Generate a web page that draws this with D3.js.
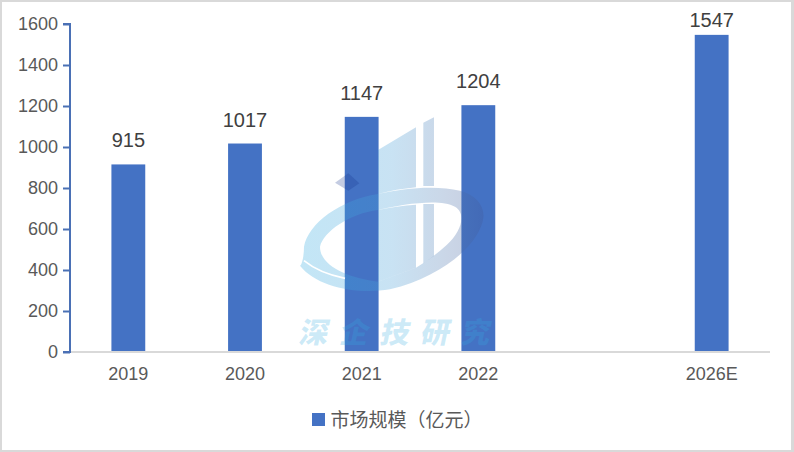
<!DOCTYPE html>
<html lang="en">
<head>
<meta charset="utf-8">
<title>市场规模</title>
<style>
  html, body { margin: 0; padding: 0; background: #fff; }
  svg { display: block; }
</style>
<script src="https://cdn.jsdelivr.net/npm/d3@7/dist/d3.min.js"></script>
</head>
<body>
<script>
/* chart data */
var categories = ["2019", "2020", "2021", "2022", "", "2026E"];
var values = [915, 1017, 1147, 1204, null, 1547];
var yTicks = [0, 200, 400, 600, 800, 1000, 1200, 1400, 1600];
var legendLabel = "市场规模（亿元）";
var watermarkChars = ["深", "企", "技", "研", "究"];

var W = 794, H = 452;
var margin = {top: 24, right: 24, bottom: 100, left: 70};
var width = W - margin.left - margin.right;
var height = H - margin.top - margin.bottom;
var latin = "'Liberation Sans', Arial, sans-serif";
var cjk = "'Noto Sans CJK SC', sans-serif";

var svg = d3.select("body").append("svg").attr("width", W).attr("height", H);

/* grey frame round the image */
svg.append("rect").attr("width", W).attr("height", H).attr("fill", "#d9d9d9");
svg.append("rect").attr("x", 2).attr("y", 2).attr("width", 789).attr("height", 448).attr("fill", "#fff");

var g = svg.append("g").attr("transform", "translate(" + margin.left + "," + margin.top + ")");

var x = d3.scaleBand().domain(d3.range(categories.length)).range([0, width]).paddingInner(0.71).paddingOuter(0.355);
var y = d3.scaleLinear().domain([0, 1600]).range([height, 0]);

var points = values.map(function(v, i) { return {v: v, i: i}; }).filter(function(d) { return d.v !== null; });

/* bars */
g.selectAll(".bar")
  .data(points)
  .enter().append("rect")
  .attr("class", "bar")
  .attr("x", function(d) { return x(d.i); })
  .attr("width", x.bandwidth())
  .attr("y", function(d) { return y(d.v); })
  .attr("height", function(d) { return height - y(d.v); })
  .attr("fill", "#4472c4");

/* value labels, the tallest one gets pushed down by the top edge */
g.selectAll(".label")
  .data(points)
  .enter().append("text")
  .attr("class", "label")
  .attr("x", function(d) { return x(d.i) + x.bandwidth() / 2; })
  .attr("y", function(d) { return Math.max(y(d.v) - 17, 3); })
  .attr("text-anchor", "middle")
  .style("font-family", latin).style("font-size", "20px").attr("fill", "#404040")
  .text(function(d) { return d.v; });

/* y axis */
var yAxis = g.append("g").call(d3.axisLeft(y).tickValues(yTicks).tickSize(7).tickPadding(5).tickFormat(d3.format("d")));
yAxis.selectAll("path, line").attr("stroke", "#4a70b5").attr("stroke-width", 2);
yAxis.select("path").attr("d", "M-7," + y(1600) + "H0V" + y(0) + "H-7");
yAxis.selectAll("text").style("font-family", latin).style("font-size", "18px").attr("fill", "#595959");

/* x axis */
var xAxis = g.append("g").attr("transform", "translate(0," + height + ")")
  .call(d3.axisBottom(x).tickSize(0).tickPadding(15).tickFormat(function(i) { return categories[i]; }));
xAxis.select("path").attr("stroke", "#d9d9d9").attr("stroke-width", 2).attr("d", "M1,0H" + width);
xAxis.selectAll("text").style("font-family", latin).style("font-size", "18px").attr("fill", "#595959");

/* legend */
svg.append("rect").attr("x", 312).attr("y", 413).attr("width", 13).attr("height", 13).attr("fill", "#4472c4");
svg.append("text").attr("x", 330.5).attr("y", 426.5)
  .style("font-family", cjk).style("font-size", "19px").attr("fill", "#595959")
  .text(legendLabel);

/* faint logo watermark, sits over the bars */
var defs = svg.append("defs");
var grad = defs.append("linearGradient").attr("id", "wm").attr("gradientUnits", "userSpaceOnUse")
  .attr("x1", 60).attr("x2", 610).attr("y1", 0).attr("y2", 0);
grad.append("stop").attr("offset", "0%").attr("stop-color", "#37ace1");
grad.append("stop").attr("offset", "50%").attr("stop-color", "#4aa0d8");
grad.append("stop").attr("offset", "80%").attr("stop-color", "#5078b0");
grad.append("stop").attr("offset", "100%").attr("stop-color", "#415898");

var wm = svg.append("g").attr("transform", "translate(280,100) scale(0.3333)");
var logoShapes = [
  "M294,150L408,82V262C370,266 330,272 294,282Z",
  "M430,68L462,52V258H430Z",
  "M294,330C330,322 370,316 408,314V503L294,545Z",
  "M430,312H462V468L430,490Z",
  "M72,440C85,370 180,300 294,282C370,264 470,255 540,272C590,285 615,320 610,355C600,430 490,530 330,568C230,585 110,560 60,497C65,497 72,470 72,440Z" +
    "M120,440C130,395 210,340 294,330C370,312 480,295 525,320C560,340 545,395 500,435C470,462 440,485 408,503L294,545C210,535 120,500 120,440Z"
];
wm.selectAll(".logo").data(logoShapes).enter().append("path")
  .attr("class", "logo").attr("d", function(d) { return d; })
  .attr("fill", "url(#wm)").attr("fill-opacity", 0.3).attr("fill-rule", "evenodd");

/* thin white gap that splits the tail from the crescent */
wm.append("path")
  .attr("d", "M72,482C100,505 145,525 195,535")
  .attr("fill", "none").attr("stroke", "#fff").attr("stroke-width", 5);

wm.append("path")
  .attr("d", "M165,248L205,220L238,250L205,272Z")
  .attr("fill", "#12358c").attr("fill-opacity", 0.25);

svg.selectAll(".wmchar").data(watermarkChars).enter().append("text")
  .attr("class", "wmchar")
  .attr("transform", function(d, i) { return "translate(" + (298 + i * 40.5) + ",343) skewX(-12)"; })
  .style("font-family", cjk).style("font-size", "29px").style("font-weight", 900)
  .attr("fill", "#37ace1").attr("fill-opacity", 0.25)
  .text(function(d) { return d; });
</script>
</body>
</html>
